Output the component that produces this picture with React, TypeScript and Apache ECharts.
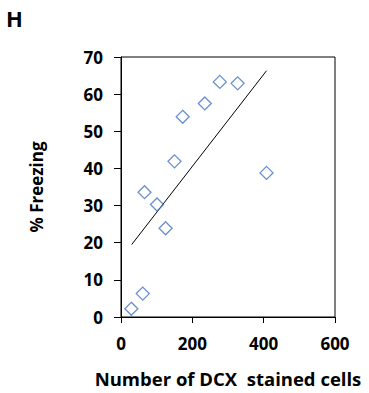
import React, { useEffect, useRef } from "react";
import * as echarts from "echarts";

const dcxCells = [29, 61, 66, 101, 125, 150, 173, 235, 277, 327, 408];
const freezing = [2.2, 6.3, 33.6, 30.3, 23.9, 41.9, 53.9, 57.5, 63.3, 62.9, 38.8];
const trendX = [30, 408];
const trendY = [19.5, 66.3];
const xTicks = [0, 200, 400, 600];
const yTicks = [0, 10, 20, 30, 40, 50, 60, 70];

export default function App() {
  const ref = useRef<HTMLDivElement>(null);
  useEffect(() => {
    if (!ref.current) return;
    const chart = echarts.init(ref.current, null, { renderer: "svg" });
    const font = "'Open Sans', sans-serif";
    chart.setOption({
      animation: false,
      backgroundColor: "#ffffff",
      textStyle: { fontFamily: font },
      graphic: [
        {
          type: "text",
          left: 6,
          top: 7,
          style: { text: "H", fontFamily: font, fontWeight: "bold", fontSize: 22, fill: "#000" },
        },
      ],
      grid: {
        left: 121,
        right: 34,
        top: 57,
        bottom: 76,
        show: true,
        borderColor: "#000",
        borderWidth: 1,
        backgroundColor: "transparent",
      },
      xAxis: {
        type: "value",
        min: xTicks[0],
        max: xTicks[xTicks.length - 1],
        interval: 200,
        name: "Number of DCX  stained cells",
        nameLocation: "middle",
        nameGap: 52,
        nameTextStyle: { fontFamily: font, fontWeight: "bold", fontSize: 18.5, color: "#000" },
        axisLine: { show: true, lineStyle: { color: "#000", width: 1 } },
        axisTick: { show: true, length: 6, lineStyle: { color: "#000" } },
        axisLabel: { margin: 18, fontFamily: font, fontWeight: "bold", fontSize: 17, color: "#000" },
        splitLine: { show: false },
      },
      yAxis: {
        type: "value",
        min: yTicks[0],
        max: yTicks[yTicks.length - 1],
        interval: 10,
        name: "% Freezing",
        nameLocation: "middle",
        nameGap: 76,
        nameRotate: 90,
        nameTextStyle: { fontFamily: font, fontWeight: "bold", fontSize: 17, color: "#000" },
        axisLine: { show: true, lineStyle: { color: "#000", width: 1 } },
        axisTick: { show: true, length: 7, lineStyle: { color: "#000" } },
        axisLabel: { margin: 18, fontFamily: font, fontWeight: "bold", fontSize: 17, color: "#000" },
        splitLine: { show: false },
      },
      series: [
        {
          type: "line",
          data: trendX.map((x, i) => [x, trendY[i]]),
          showSymbol: false,
          symbol: "none",
          lineStyle: { color: "#000", width: 1 },
          silent: true,
          z: 1,
        },
        {
          type: "scatter",
          data: dcxCells.map((x, i) => [x, freezing[i]]),
          symbol: "diamond",
          symbolSize: 13,
          itemStyle: { color: "rgba(0,0,0,0)", borderColor: "#4472C4", borderWidth: 1.3 },
          z: 2,
        },
      ],
    });
    return () => chart.dispose();
  }, []);
  return (
    <div
      ref={ref}
      style={{ position: "fixed", left: 0, top: 0, width: 369, height: 393, background: "#fff" }}
    />
  );
}
